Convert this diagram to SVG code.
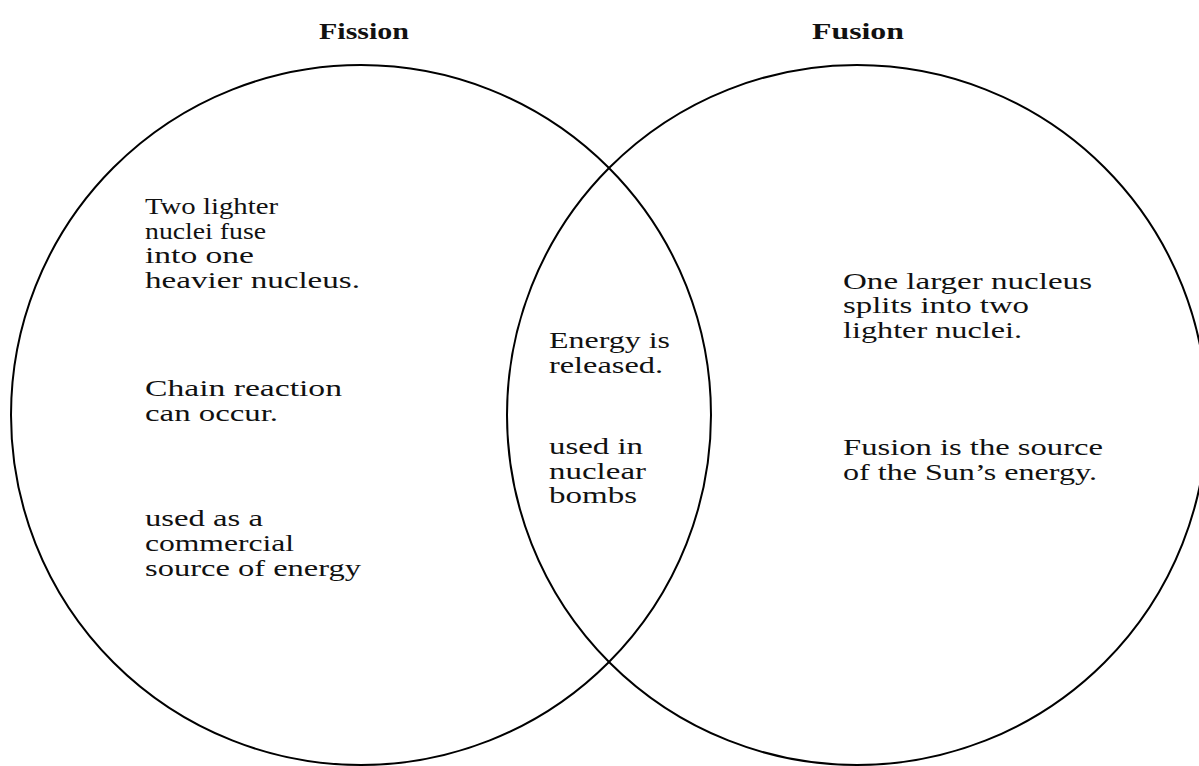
<svg xmlns="http://www.w3.org/2000/svg" width="1199" height="766" viewBox="0 0 1199 766">
<style>
.c{fill:none;stroke:#000;stroke-width:2}
.t{font-family:"Liberation Serif",serif;font-size:24px;fill:#111}
.h{font-family:"Liberation Serif",serif;font-size:24px;font-weight:bold;fill:#111}
</style>
<rect width="1199" height="766" fill="#fff"/>
<g id="fission">
<circle class="c" cx="361" cy="415" r="350"/>
<text class="h" x="319" y="39" textLength="90" lengthAdjust="spacingAndGlyphs">Fission</text>
<text class="t" x="145" y="214" textLength="133" lengthAdjust="spacingAndGlyphs">Two lighter</text>
<text class="t" x="145" y="239" textLength="121" lengthAdjust="spacingAndGlyphs">nuclei fuse</text>
<text class="t" x="145" y="263" textLength="109" lengthAdjust="spacingAndGlyphs">into one</text>
<text class="t" x="145" y="288" textLength="215" lengthAdjust="spacingAndGlyphs">heavier nucleus.</text>
<text class="t" x="145" y="396" textLength="197" lengthAdjust="spacingAndGlyphs">Chain reaction</text>
<text class="t" x="145" y="421" textLength="133" lengthAdjust="spacingAndGlyphs">can occur.</text>
<text class="t" x="145" y="526" textLength="118" lengthAdjust="spacingAndGlyphs">used as a</text>
<text class="t" x="145" y="551" textLength="149" lengthAdjust="spacingAndGlyphs">commercial</text>
<text class="t" x="145" y="576" textLength="216" lengthAdjust="spacingAndGlyphs">source of energy</text>
</g>
<g id="fusion">
<circle class="c" cx="857" cy="415" r="350"/>
<text class="h" x="812" y="39" textLength="92" lengthAdjust="spacingAndGlyphs">Fusion</text>
<text class="t" x="843" y="289" textLength="249" lengthAdjust="spacingAndGlyphs">One larger nucleus</text>
<text class="t" x="843" y="313" textLength="186" lengthAdjust="spacingAndGlyphs">splits into two</text>
<text class="t" x="843" y="338" textLength="179" lengthAdjust="spacingAndGlyphs">lighter nuclei.</text>
<text class="t" x="843" y="455" textLength="260" lengthAdjust="spacingAndGlyphs">Fusion is the source</text>
<text class="t" x="843" y="480" textLength="254" lengthAdjust="spacingAndGlyphs">of the Sun’s energy.</text>
</g>
<g id="both">
<text class="t" x="549" y="348" textLength="121" lengthAdjust="spacingAndGlyphs">Energy is</text>
<text class="t" x="549" y="373" textLength="114" lengthAdjust="spacingAndGlyphs">released.</text>
<text class="t" x="549" y="454" textLength="94" lengthAdjust="spacingAndGlyphs">used in</text>
<text class="t" x="549" y="479" textLength="97" lengthAdjust="spacingAndGlyphs">nuclear</text>
<text class="t" x="549" y="503" textLength="88" lengthAdjust="spacingAndGlyphs">bombs</text>
</g>
<g id="connectors"></g>
</svg>
